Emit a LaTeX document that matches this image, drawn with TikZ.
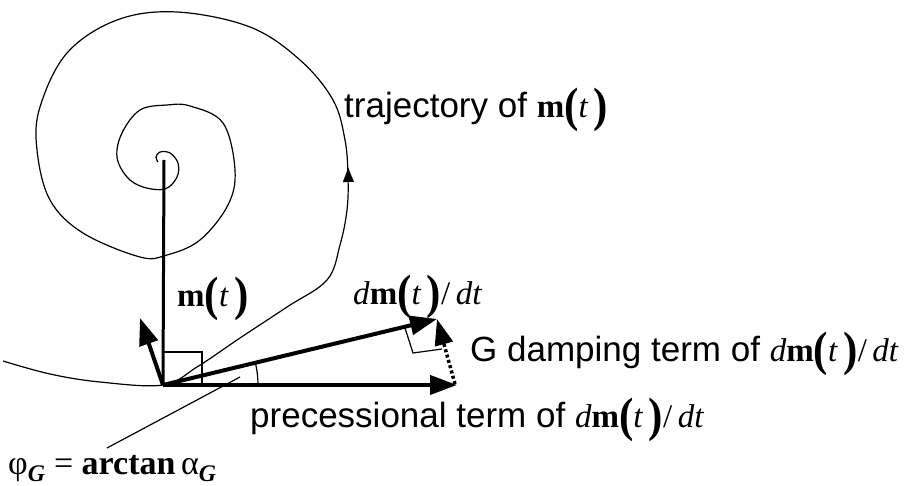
\documentclass[tikz,border=0pt]{standalone}
\usepackage{fontspec}
\usepackage{graphicx}
\setmainfont{Liberation Serif}
\setsansfont{Liberation Sans}
\usetikzlibrary{arrows.meta}
\newcommand{\bpar}[1]{\raisebox{-4pt}{\scalebox{1}[1.12]{\fontsize{43}{43}\selectfont\bfseries #1}}}
\newcommand{\mtt}{\textbf{m}\bpar{(}\textit{t}\,\bpar{)}}
\newcommand{\dmdt}{\textit{d}\mtt/\,\textit{dt}}
\begin{document}
\begin{tikzpicture}[x=1pt,y=-1pt,
  txt/.style={inner sep=0pt,anchor=base west,font=\fontsize{33}{38}\selectfont},
  sanstxt/.style={txt,font=\fontsize{35}{40}\selectfont},
  thin line/.style={line width=1.2pt},
  vec/.style={line width=4pt,-{Triangle[length=27pt,width=19pt]}},
  dotvec/.style={line width=3.5pt,dash pattern=on 3pt off 2.5pt,-{Triangle[length=26pt,width=18pt]}}]
\useasboundingbox (0,0) rectangle (911,486);
% named points
\coordinate (O) at (163,385);
\coordinate (C) at (164,160);
\coordinate (D) at (437,319);
\coordinate (P) at (457,385);
\coordinate (S) at (140,318);
\coordinate (Pb) at (455,384);
\coordinate (A) at (258,385);
\coordinate (L1) at (240,377);
\coordinate (L2) at (107,448);
\coordinate (R1) at (405,328);
\coordinate (R2) at (413,353);
\coordinate (R3) at (442,349);
\coordinate (Q1) at (163,352);
\coordinate (Q2) at (202,352);
\coordinate (Q3) at (202,385);
\coordinate (T1) at (348.6,195);
\coordinate (T2) at (348.2,168);
% spiral trajectory
\draw[thin line] plot[smooth,tension=0.6] coordinates {
 (3,361) (50,374) (100,382) (163,385) (197,367) (240,338) (287,307) (327,280)
 (340,245) (347,210) (348,177) (345,140) (333,100) (300,60) (250,27) (177,12)
 (117,20) (67,53) (40,107) (37,150) (50,200) (83,233) (140,257) (167,255)
 (200,240) (228,205) (235,170) (223,123) (190,106) (167,105) (140,110)
 (122,133) (117,157) (127,177) (143,187) (165,189) (177,177) (178,163)
 (170,153) (160,152) (156,157) (158,162)};
\path[draw,line width=0.1pt,-{Triangle[length=14pt,width=11pt]}] (T1) -- (T2);
% m(t)
\draw[line width=3pt] (C) -- (O);
% right angle at base
\draw[thin line] (Q1) -- (Q2) -- (Q3);
% vectors
\draw[vec] (O) -- (D);
\draw[vec] (O) -- (P);
\draw[vec] (O) -- (S);
\draw[dotvec] (Pb) -- (D);
% right angle at tip
\draw[thin line] (R1) -- (R2) -- (R3);
% angle arc
\draw[thin line] (A) arc[start angle=0,end angle=-14,radius=95];
% leader
\draw[thin line] (L1) -- (L2);
% labels
\node[sanstxt] (traj) at (344,118) {\sffamily trajectory of \rmfamily\fontsize{33}{38}\selectfont\mtt};
\node[txt] (mlab) at (177,307) {\mtt};
\node[txt] (dlab) at (353,305) {\dmdt};
\node[sanstxt] (glab) at (470,362) {\sffamily G damping term of \rmfamily\fontsize{33}{38}\selectfont\dmdt};
\node[sanstxt] (plab) at (250,428) {\sffamily precessional term of \rmfamily\fontsize{33}{38}\selectfont\dmdt};
\node[txt,font=\fontsize{34}{38}\selectfont] (phi) at (8,474) {φ\textsubscript{\textbf{\textit{G}}} = \textbf{arctan}\,α\textsubscript{\textbf{\textit{G}}}};
\end{tikzpicture}
\end{document}
